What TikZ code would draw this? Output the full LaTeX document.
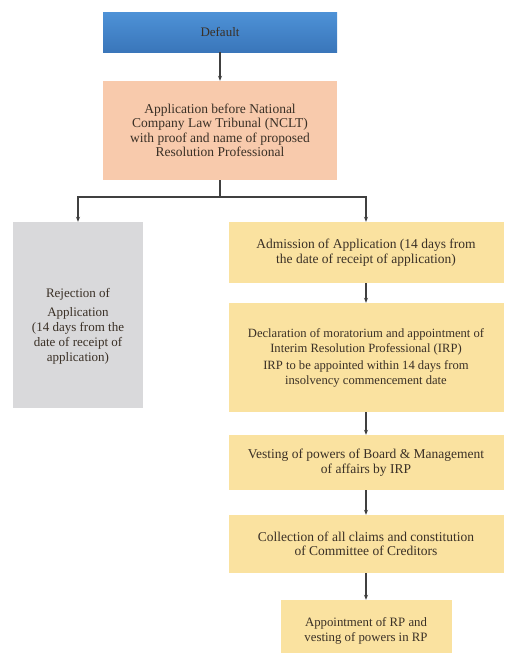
\documentclass[tikz,border=0pt]{standalone}
\usepackage{fontspec}
\setmainfont{Liberation Serif}
\usepackage{tikz}
\usetikzlibrary{arrows.meta, positioning}
\definecolor{defblue}{RGB}{78,146,215}
\definecolor{defbluedark}{RGB}{58,118,186}
\definecolor{peach}{RGB}{248,202,172}
\definecolor{greybox}{RGB}{217,217,219}
\definecolor{goldbox}{RGB}{250,226,160}
\definecolor{txtdark}{RGB}{58,48,38}
\definecolor{linegrey}{RGB}{64,64,64}

\begin{document}
\begin{tikzpicture}[
    x=1pt, y=-1pt,
    base/.style = {rectangle, align=center, inner sep=0pt, text=txtdark, font=\fontsize{13.5}{14.5}\selectfont},
    topblock/.style = {base, top color=defblue, bottom color=defbluedark, minimum width=234pt, minimum height=40pt, font=\fontsize{13}{14}\selectfont},
    appblock/.style = {base, fill=peach, minimum width=234pt, minimum height=99pt},
    rejblock/.style = {base, fill=greybox, minimum width=130pt, minimum height=186pt, font=\fontsize{13}{15}\selectfont},
    stepblock/.style = {base, fill=goldbox, minimum width=275pt},
    arrow/.style = {draw=linegrey, line width=1.1pt, -{Stealth[length=5pt, width=4pt]}}
]
\useasboundingbox (0,0) rectangle (505,653);

% Top
\node (b1) [topblock] at (220, 32) {Default};
\node (b2) [appblock] at (220, 130.5) {Application before National\\Company Law Tribunal (NCLT)\\with proof and name of proposed\\Resolution Professional};
\coordinate (split) at (220, 197);

% Left branch
\node (b3) [rejblock] at (78, 315) {\mbox{}\\[16pt]Rejection of\\[4pt]Application\\(14 days from the\\date of receipt of\\application)};

% Right branch
\node (b4) [stepblock, minimum height=61pt, font=\fontsize{13.5}{15}\selectfont] at (366, 252.5) {Admission of Application (14 days from\\the date of receipt of application)};
\node (b5) [stepblock, minimum height=109pt, font=\fontsize{12.6}{15}\selectfont] at (366, 357.5) {Declaration of moratorium and appointment of\\Interim Resolution Professional (IRP)\\[2pt]IRP to be appointed within 14 days from\\insolvency commencement date};
\node (b6) [stepblock, minimum height=55pt] at (366, 462.5) {Vesting of powers of Board \& Management\\of affairs by IRP};
\node (b7) [stepblock, minimum height=58pt] at (366, 544) {Collection of all claims and constitution\\of Committee of Creditors};
\node (b8) [base, fill=goldbox, minimum width=171pt, minimum height=62pt, font=\fontsize{12.8}{14.5}\selectfont] at (366, 631) {Appointment of RP and\\vesting of powers in RP};

% Arrows
\draw [arrow] (b1) -- (b2);
\draw [draw=linegrey, line width=1.1pt] (b2) -- (split);
\draw [arrow] (split) -| (b3);
\draw [arrow] (split) -| (b4);
\draw [arrow] (b4) -- (b5);
\draw [arrow] (b5) -- (b6);
\draw [arrow] (b6) -- (b7);
\draw [arrow] (b7) -- (b8);

\end{tikzpicture}
\end{document}
